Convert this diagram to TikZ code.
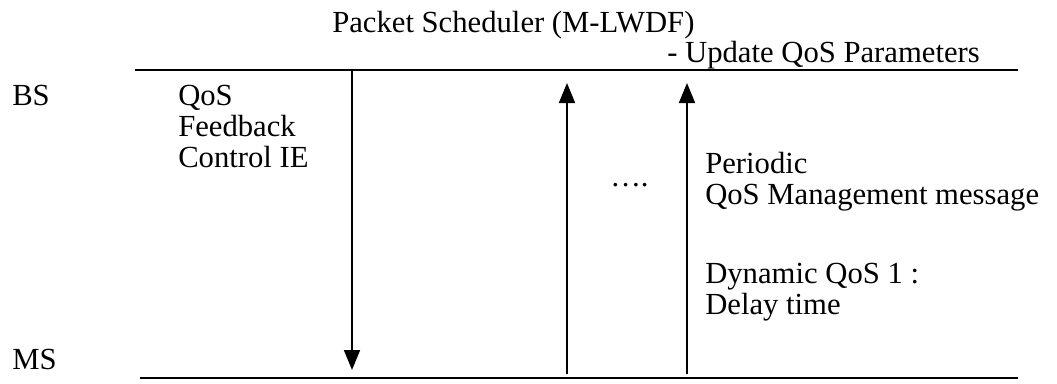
\documentclass[tikz,border=0pt]{standalone}
\usepackage{fontspec}
\setmainfont{Liberation Serif}
\usetikzlibrary{arrows.meta}

\tikzset{
    txt/.style={anchor=base west, align=left, inner sep=0pt,
        font=\fontsize{23}{23}\selectfont},
    msg/.style={line width=1.3pt, -{Triangle[width=12pt,length=15pt]}}
}

\begin{document}
\begin{tikzpicture}[x=0.75pt, y=-0.75pt]
        % 按参考图的像素坐标作图(y 轴向下)
        % 多行文字的 base 锚点在最后一行
        \useasboundingbox (0, 0) rectangle (1057, 383);

        % BS 与 MS 的时间线
        \coordinate (bsL) at (135, 70);
        \coordinate (bsR) at (1018, 70);
        \coordinate (msL) at (140, 378);
        \coordinate (msR) at (1018, 378);
        \draw[line width=1.3pt] (bsL) -- (bsR);
        \draw[line width=1.3pt] (msL) -- (msR);

        \node[txt] (bs) at (12, 105) {BS};
        \node[txt] (ms) at (12, 369) {MS};

        % 消息端点
        \coordinate (fbTop) at (352, 70);
        \coordinate (fbEnd) at (352, 370);
        \coordinate (qm1Bot) at (567, 374);
        \coordinate (qm1Top) at (567, 83);
        \coordinate (qm2Bot) at (687, 374);
        \coordinate (qm2Top) at (687, 83);

        \draw[msg] (fbTop) -- (fbEnd);
        \draw[msg] (qm1Bot) -- (qm1Top);
        \draw[msg] (qm2Bot) -- (qm2Top);

        % 文字
        \node[txt] (sched) at (332, 32) {Packet Scheduler (M-LWDF)};
        \node[txt] (update) at (667, 62) {- Update QoS Parameters};
        \node[txt] (fb) at (178, 167) {QoS\\Feedback\\Control IE};
        \node[txt] (dots) at (610, 186) {\dots .};
        \node[txt] (periodic) at (705, 204) {Periodic\\QoS Management message};
        \node[txt] (dyn) at (705, 314) {Dynamic QoS 1 :\\Delay time};
    \end{tikzpicture}
\end{document}
